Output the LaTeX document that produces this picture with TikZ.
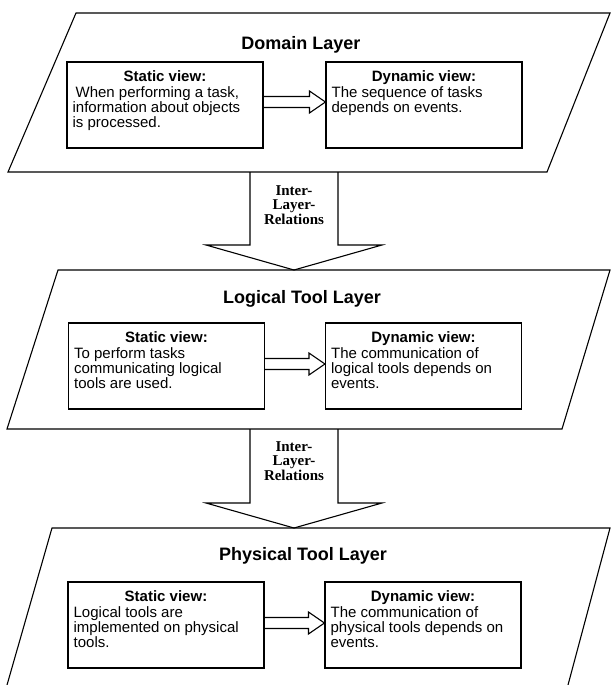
\documentclass[tikz,border=0pt]{standalone}
\usepackage{fontspec}
\setmainfont{Liberation Sans}
\newfontfamily\relfont{Liberation Serif}
\usetikzlibrary{calc}

\tikzset{
  outline/.style={draw=black, line width=1.1pt, line join=miter},
  viewbox/.style={draw=black, line width=1.1pt, rectangle, minimum width=196pt, minimum height=86pt, inner sep=0pt},
  layertitle/.style={font=\fontsize{18}{20}\selectfont\bfseries, inner sep=0pt, anchor=base},
  viewtitle/.style={font=\fontsize{15}{15}\selectfont\bfseries, inner sep=0pt, anchor=base},
  viewtext/.style={font=\fontsize{15}{15}\selectfont, align=left, inner sep=0pt, anchor=north west},
  reltext/.style={font=\relfont\bfseries\fontsize{15}{14.5}\selectfont, align=center, inner sep=0pt},
}
% first-line strut so that every text block starts 12pt above its first baseline
\newcommand{\firstline}{\rule{0pt}{12pt}}

\begin{document}
\begin{tikzpicture}[x=1pt, y=-1pt]
\useasboundingbox (0,0) rectangle (611,685);

% ---------- the three layers ----------
\draw[outline] (76,13) -- (610,13) -- (547,172) -- (8,172) -- cycle;
\draw[outline] (58,270) -- (610,270) -- (562,429) -- (7,429) -- cycle;
\draw[outline] (7,685) -- (52,528) -- (610,528) -- (568,685);

\node[layertitle] (t1) at (301,49) {Domain Layer};
\node[layertitle] (t2) at (302,303) {Logical Tool Layer};
\node[layertitle] (t3) at (303,560) {Physical Tool Layer};

% ---------- view boxes ----------
\node[viewbox] (s1) at (165,105) {};
\node[viewbox] (d1) at (424,105) {};
\node[viewbox] (s2) at (166.5,366) {};
\node[viewbox] (d2) at (423.5,366) {};
\node[viewbox] (s3) at (166,625) {};
\node[viewbox] (d3) at (423,625) {};

% box contents
\node[viewtitle] (s1h) at ($(s1.north)+(0,20)$) {Static view:};
\node[viewtext] (s1b) at ($(s1.north west)+(6,24)$) {\firstline\hspace*{3pt}When performing a task,\\information about objects\\is processed.};
\node[viewtitle] (d1h) at ($(d1.north)+(0,20)$) {Dynamic view:};
\node[viewtext] (d1b) at ($(d1.north west)+(6,24)$) {\firstline The sequence of tasks\\depends on events.};

\node[viewtitle] (s2h) at ($(s2.north)+(0,20)$) {Static view:};
\node[viewtext] (s2b) at ($(s2.north west)+(6,24)$) {\firstline To perform tasks\\communicating logical\\tools are used.};
\node[viewtitle] (d2h) at ($(d2.north)+(0,20)$) {Dynamic view:};
\node[viewtext] (d2b) at ($(d2.north west)+(6,24)$) {\firstline The communication of\\logical tools depends on\\events.};

\node[viewtitle] (s3h) at ($(s3.north)+(0,20)$) {Static view:};
\node[viewtext] (s3b) at ($(s3.north west)+(6,24)$) {\firstline Logical tools are\\implemented on physical\\tools.};
\node[viewtitle] (d3h) at ($(d3.north)+(0,20)$) {Dynamic view:};
\node[viewtext] (d3b) at ($(d3.north west)+(6,24)$) {\firstline The communication of\\physical tools depends on\\events.};

% ---------- hollow arrows from static to dynamic view ----------
\foreach \i/\dy in {1/-3,2/-2,3/-2}{
  \coordinate (tip\i) at ($(d\i.west)+(0,\dy)$);
  \draw[outline]
    ($(s\i.east |- tip\i)+(0,-5.5)$) -- ($(tip\i)+(-16,-5.5)$) -- ($(tip\i)+(-16,-11)$)
    -- (tip\i) -- ($(tip\i)+(-16,11)$) -- ($(tip\i)+(-16,5.5)$) -- ($(s\i.east |- tip\i)+(0,5.5)$);
}

% ---------- inter-layer arrows ----------
\coordinate (a1s) at (294,172);
\coordinate (a1t) at (294,270);
\coordinate (a2s) at (294,429);
\coordinate (a2t) at (294,528);
\foreach \i in {1,2}{
  \draw[outline]
    ($(a\i s)+(-44,0)$) -- ($(a\i t)+(-44,-25)$) -- ($(a\i t)+(-88,-25)$) -- (a\i t)
    -- ($(a\i t)+(88,-25)$) -- ($(a\i t)+(44,-25)$) -- ($(a\i s)+(44,0)$);
}
\node[reltext] (r1) at (294,205) {Inter-\\Layer-\\Relations};
\node[reltext] (r2) at (294,461) {Inter-\\Layer-\\Relations};
\end{tikzpicture}
\end{document}
